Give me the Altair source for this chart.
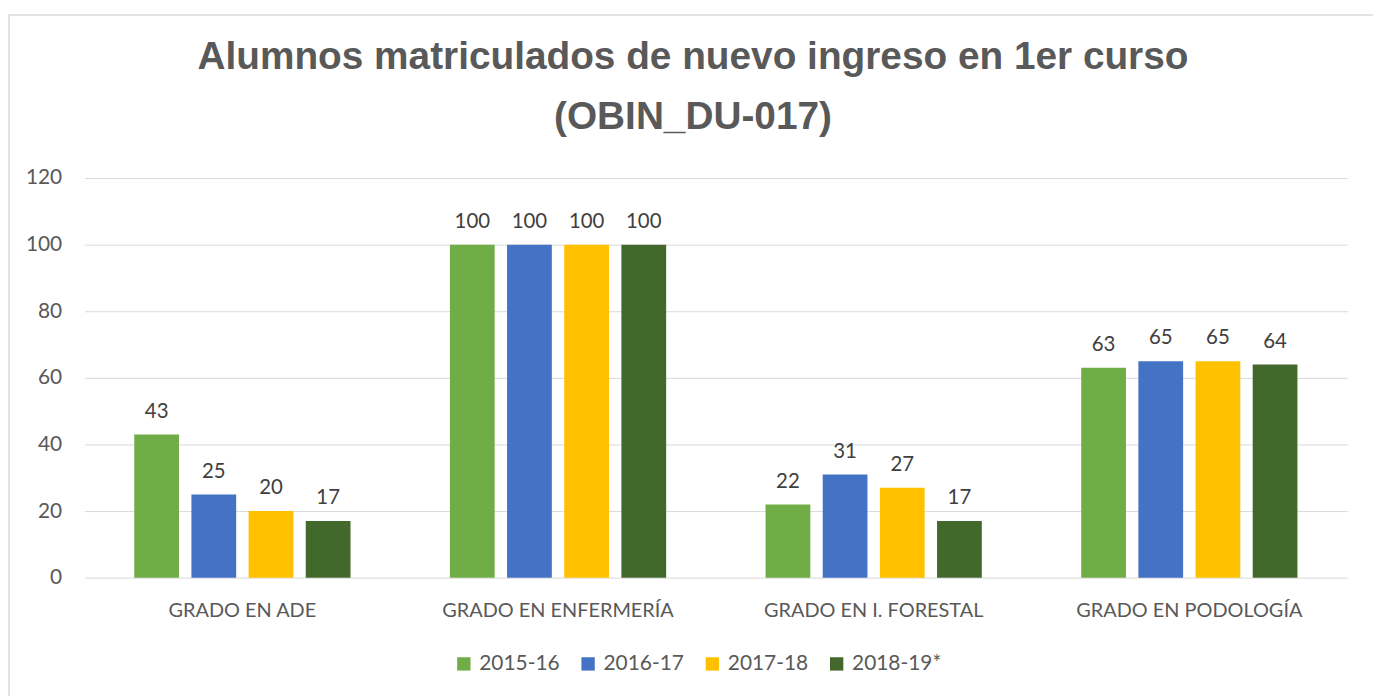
import altair as alt
import pandas as pd

categories = ["GRADO EN ADE", "GRADO EN ENFERMERÍA", "GRADO EN I. FORESTAL", "GRADO EN PODOLOGÍA"]
years = ["2015-16", "2016-17", "2017-18", "2018-19*"]
v2015 = [43, 100, 22, 63]
v2016 = [25, 100, 31, 65]
v2017 = [20, 100, 27, 65]
v2018 = [17, 100, 17, 64]
colors = ["#70AD47", "#4472C4", "#FFC000", "#43682B"]

rows = []
for series, yr in zip([v2015, v2016, v2017, v2018], years):
    for c, v in zip(categories, series):
        rows.append({"cat": c, "year": yr, "value": v})
df = pd.DataFrame(rows)

W, H = 1270, 402
pi = 0.2756
x = alt.X("cat:N", sort=categories, title=None,
          scale=alt.Scale(paddingInner=pi, paddingOuter=pi / 2),
          axis=alt.Axis(labelAngle=0, labelFont="Lato", labelFontSize=20, labelColor="#595959",
                        labelPadding=23, labelLimit=0, ticks=False, domain=False, grid=False))
xo = alt.XOffset("year:N", sort=years,
                 scale=alt.Scale(paddingInner=0.217, paddingOuter=0.1085))
y = alt.Y("value:Q", title=None,
          scale=alt.Scale(domain=[0, 120]),
          axis=alt.Axis(values=[0, 20, 40, 60, 80, 100, 120], labelFont="Lato", labelFontSize=21,
                        labelColor="#595959", labelPadding=23, ticks=False, domain=False,
                        grid=True, gridColor="#D9D9D9", gridWidth=1))

bars = alt.Chart(df).mark_bar().encode(
    x=x, xOffset=xo, y=y,
    color=alt.Color("year:N", sort=years,
                    scale=alt.Scale(domain=years, range=colors),
                    legend=alt.Legend(title=None, orient="none", legendX=371, legendY=478,
                                      direction="horizontal",
                                      symbolType="square", symbolSize=180, symbolStrokeWidth=0,
                                      labelFont="Lato", labelFontSize=21, labelColor="#595959",
                                      columnPadding=18, labelOffset=5))
)

labels = alt.Chart(df).mark_text(baseline="bottom", dy=-13, font="Lato", fontSize=20.5,
                                 color="#404040").encode(
    x=x, xOffset=xo, y=y, text=alt.Text("value:Q")
)

border = alt.Chart(pd.DataFrame({"a": [0]})).mark_rect(
    fill=None, stroke="#D9D9D9", strokeWidth=1.5
).encode(x=alt.value(-76), x2=alt.value(1300), y=alt.value(-164), y2=alt.value(560))

chart = alt.layer(border, bars, labels).properties(
    width=W, height=H,
    title=alt.TitleParams(
        text=["Alumnos matriculados de nuevo ingreso en 1er curso", "(OBIN_DU-017)"],
        font="Liberation Sans", fontSize=39, fontWeight="bold", color="#595959",
        anchor="middle", frame="bounds", lineHeight=60, offset=-123
    ),
    autosize=alt.AutoSizeParams(type="none"),
    padding={"left": 77, "top": 169, "right": 26, "bottom": 117},
).configure_view(stroke=None)

chart.save("out.html", embed_options={"renderer": "svg", "actions": False})
